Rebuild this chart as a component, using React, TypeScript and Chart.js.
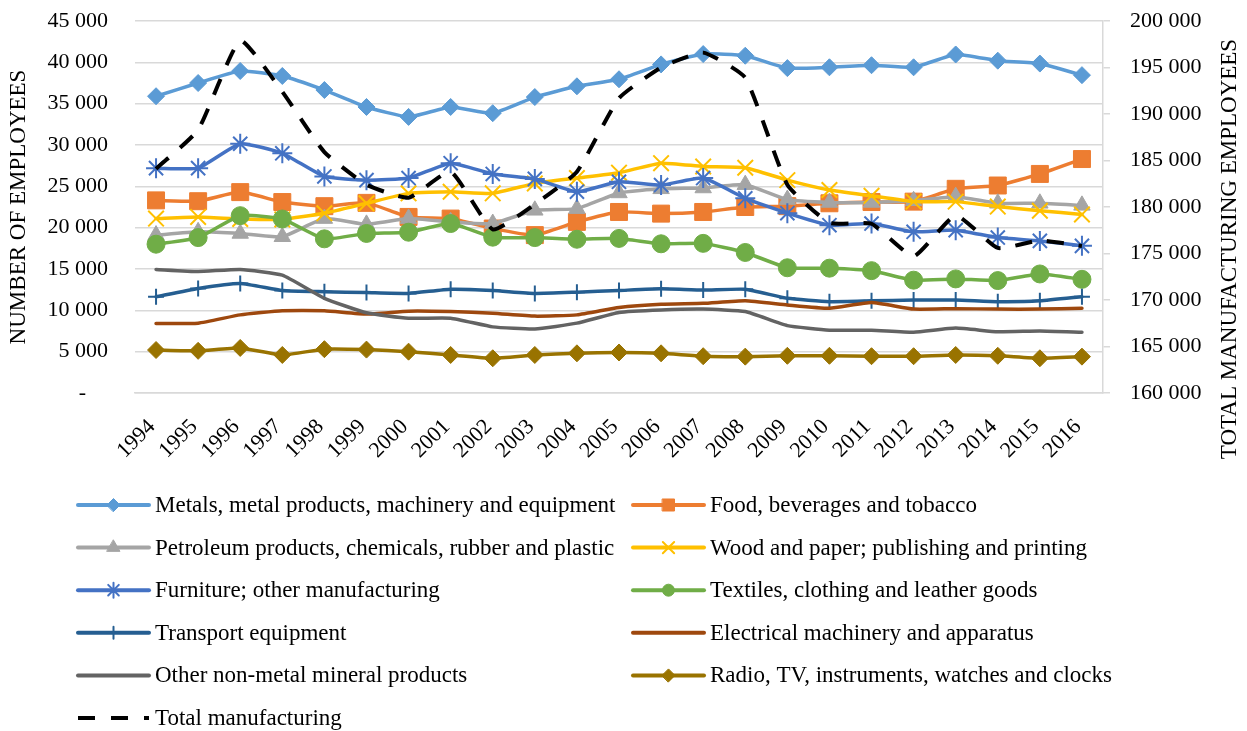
import React, { useEffect, useRef } from 'react';
import { Chart, registerables } from 'chart.js';
import { drawPoint } from 'chart.js/helpers';

Chart.register(...registerables);

const years = ['1994', '1995', '1996', '1997', '1998', '1999', '2000', '2001', '2002', '2003', '2004', '2005', '2006', '2007', '2008', '2009', '2010', '2011', '2012', '2013', '2014', '2015', '2016'];

const metals = [35900, 37500, 38950, 38350, 36650, 34600, 33400, 34600, 33850, 35800, 37100, 37950, 39750, 41000, 40800, 39300, 39400, 39650, 39400, 40950, 40200, 39850, 38450];
const food = [23300, 23200, 24300, 23100, 22600, 23000, 21300, 21100, 19900, 19100, 20700, 21900, 21700, 21900, 22500, 22600, 22950, 23100, 23150, 24700, 25100, 26500, 28300];
const petroleum = [19100, 19500, 19300, 18900, 21100, 20400, 21100, 20700, 20500, 22100, 22300, 24200, 24700, 24800, 25200, 23400, 23050, 23050, 23250, 23750, 22950, 22950, 22700];
const wood = [21100, 21300, 21050, 21000, 21750, 22950, 24150, 24350, 24150, 25350, 26000, 26650, 27800, 27400, 27250, 25750, 24550, 23850, 23150, 23150, 22550, 22050, 21600];
const furniture = [27200, 27200, 30150, 29000, 26200, 25750, 26000, 27800, 26500, 25900, 24350, 25550, 25150, 26000, 23550, 21750, 20300, 20500, 19500, 19700, 18800, 18400, 17800];
const textiles = [18000, 18800, 21450, 21050, 18650, 19300, 19450, 20500, 18850, 18800, 18600, 18700, 18050, 18100, 17000, 15150, 15100, 14800, 13650, 13800, 13600, 14400, 13750];
const transport = [11650, 12650, 13250, 12400, 12250, 12150, 12050, 12550, 12400, 12050, 12200, 12400, 12600, 12450, 12550, 11450, 11050, 11150, 11250, 11250, 11050, 11150, 11650];
const electrical = [8400, 8450, 9450, 9950, 9950, 9550, 9900, 9850, 9650, 9300, 9450, 10350, 10750, 10850, 11150, 10650, 10250, 10950, 10150, 10200, 10150, 10150, 10250];
const nonMetal = [14950, 14700, 14950, 14250, 11450, 9700, 9050, 9050, 8000, 7750, 8450, 9750, 10050, 10150, 9850, 8150, 7600, 7600, 7350, 7850, 7400, 7500, 7350];
const radio = [5200, 5100, 5450, 4600, 5300, 5250, 5000, 4600, 4200, 4600, 4800, 4900, 4800, 4450, 4400, 4500, 4500, 4450, 4450, 4600, 4500, 4200, 4400];
const total = [184100, 188300, 197900, 192400, 185900, 182400, 181000, 183800, 177600, 180300, 183800, 191700, 195000, 196600, 193900, 182400, 178300, 178200, 174700, 179100, 175600, 176400, 175800];

const seriesLabels = [
  'Metals, metal products, machinery and equipment',
  'Food, beverages and tobacco',
  'Petroleum products, chemicals, rubber and plastic',
  'Wood and paper; publishing and printing',
  'Furniture; other manufacturing',
  'Textiles, clothing and leather goods',
  'Transport equipment',
  'Electrical machinery and apparatus',
  'Other non-metal mineral products',
  'Radio, TV, instruments, watches and clocks',
  'Total manufacturing',
];

const leftTitle = 'NUMBER OF EMPLOYEES';
const rightTitle = 'TOTAL MANUFACTURING EMPLOYEES';

const FONT = '"Liberation Serif", "Times New Roman", serif';

const seriesData = [metals, food, petroleum, wood, furniture, textiles, transport, electrical, nonMetal, radio, total];
const colors = ['#5B9BD5', '#ED7D31', '#A5A5A5', '#FFC000', '#4472C4', '#70AD47', '#255E91', '#9E480E', '#636363', '#997300', '#000000'];
const pointStyles: any[] = ['rectRot', 'rect', 'triangle', 'crossRot', 'star', 'circle', 'cross', 'circle', 'circle', 'rectRot', 'circle'];
const pointRadii = [8.5, 12, 9.5, 11, 10, 9, 8, 0, 0, 8.5, 0];
const pointBorders = [1, 1, 1, 2, 2, 1, 2, 0, 0, 1, 0];
const legendRadii = [6.5, 8.5, 7.5, 8, 7.5, 6, 6, 0, 0, 6.5, 0];

function fmt(v: number) {
  if (v === 0) return '-    ';
  return String(Math.round(v)).replace(/\B(?=(\d{3})+(?!\d))/g, ' ');
}

const legendPlugin = {
  id: 'customLegend',
  afterDraw(chart: any) {
    const ctx = chart.ctx;
    ctx.save();
    chart.data.datasets.forEach((ds: any, i: number) => {
      const col = i % 2;
      const row = Math.floor(i / 2);
      const x0 = col ? 633 : 78;
      const y = 505 + row * 42.6;
      const len = 71;
      ctx.save();
      ctx.strokeStyle = ds.borderColor;
      ctx.lineWidth = 4;
      if (ds.borderDash && ds.borderDash.length) {
        ctx.setLineDash([17, 16]);
        ctx.lineCap = 'butt';
      } else {
        ctx.setLineDash([]);
        ctx.lineCap = 'round';
      }
      ctx.beginPath();
      ctx.moveTo(x0, y);
      ctx.lineTo(x0 + len, y);
      ctx.stroke();
      ctx.setLineDash([]);
      const r = legendRadii[i];
      if (r > 0) {
        ctx.fillStyle = ds.borderColor;
        ctx.strokeStyle = ds.borderColor;
        ctx.lineWidth = pointBorders[i];
        drawPoint(ctx, { pointStyle: pointStyles[i], rotation: 0, radius: r, borderWidth: pointBorders[i] } as any, x0 + len / 2, y);
      }
      ctx.restore();
      ctx.fillStyle = '#000';
      ctx.font = `23px ${FONT}`;
      ctx.textAlign = 'left';
      ctx.textBaseline = 'middle';
      ctx.fillText(ds.label, x0 + 77, y + 1);
    });
    ctx.restore();
  },
};

const titlesPlugin = {
  id: 'axisTitles',
  afterDraw(chart: any) {
    const ctx = chart.ctx;
    ctx.save();
    ctx.fillStyle = '#000';
    ctx.font = `23px ${FONT}`;
    ctx.textAlign = 'center';
    ctx.textBaseline = 'middle';
    ctx.save();
    ctx.translate(19, 207);
    ctx.rotate(-Math.PI / 2);
    ctx.fillText(leftTitle, 0, 0);
    ctx.restore();
    ctx.save();
    ctx.translate(1230, 249);
    ctx.rotate(-Math.PI / 2);
    ctx.fillText(rightTitle, 0, 0);
    ctx.restore();
    ctx.restore();
  },
};

export default function App() {
  const ref = useRef<HTMLCanvasElement | null>(null);

  useEffect(() => {
    document.body.style.margin = '0';
    document.body.style.overflow = 'hidden';
    const canvas = ref.current;
    if (!canvas) return;

    const datasets = seriesData.map((d, i) => {
      const isTotal = i === seriesData.length - 1;
      return {
        label: seriesLabels[i],
        data: d,
        borderColor: colors[i],
        backgroundColor: colors[i],
        pointBackgroundColor: colors[i],
        pointBorderColor: colors[i],
        pointStyle: pointStyles[i],
        pointRadius: pointRadii[i],
        pointHoverRadius: pointRadii[i],
        pointBorderWidth: pointBorders[i],
        borderWidth: isTotal ? 4 : 3.5,
        borderDash: isTotal ? [17, 15] : [],
        borderCapStyle: isTotal ? 'butt' : 'round',
        borderJoinStyle: 'round',
        tension: 0.15,
        fill: false,
        yAxisID: isTotal ? 'y1' : 'y',
        order: 20 - i,
      };
    });

    const chart = new Chart(canvas, {
      type: 'line',
      data: { labels: years, datasets: datasets as any },
      plugins: [legendPlugin, titlesPlugin],
      options: {
        responsive: false,
        animation: false,
        events: [],
        layout: { padding: { top: 21, left: 0, right: 0, bottom: 0 } },
        plugins: {
          legend: { display: false },
          tooltip: { enabled: false },
          title: { display: false },
        },
        scales: {
          x: {
            type: 'category',
            offset: true,
            grid: { display: false },
            border: { display: true, color: '#D9D9D9', width: 1.5 },
            ticks: {
              autoSkip: false,
              maxRotation: 45,
              minRotation: 45,
              padding: 13,
              labelOffset: -4,
              color: '#000',
              font: { family: FONT, size: 22 },
            },
            afterFit(scale: any) {
              scale.height = 338;
            },
          },
          y: {
            position: 'left',
            min: 0,
            max: 45000,
            grid: { color: '#D9D9D9', lineWidth: 1.5, drawTicks: false },
            border: { display: false },
            ticks: {
              stepSize: 5000,
              padding: 27,
              color: '#000',
              font: { family: FONT, size: 22 },
              callback: (v: any) => fmt(Number(v)),
            },
            afterFit(scale: any) {
              scale.width = 135;
              scale.paddingTop = 0;
              scale.paddingBottom = 0;
            },
          },
          y1: {
            position: 'right',
            min: 160000,
            max: 200000,
            grid: { drawOnChartArea: false, drawTicks: true, tickLength: 7, color: '#D9D9D9', lineWidth: 1.5 },
            border: { display: true, color: '#D9D9D9', width: 1.5 },
            ticks: {
              stepSize: 5000,
              padding: 20,
              color: '#000',
              font: { family: FONT, size: 22 },
              callback: (v: any) => fmt(Number(v)),
            },
            afterFit(scale: any) {
              scale.width = 144;
              scale.paddingTop = 0;
              scale.paddingBottom = 0;
            },
          },
        },
      } as any,
    });

    return () => chart.destroy();
  }, []);

  return (
    <div style={{ width: 1247, height: 731, position: 'relative', background: '#fff' }}>
      <canvas ref={ref} width={1247} height={731} style={{ display: 'block' }} />
    </div>
  );
}
